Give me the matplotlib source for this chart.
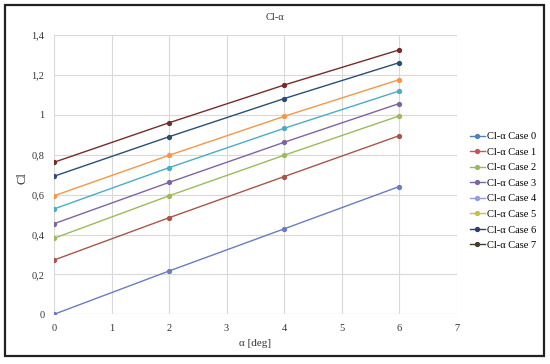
import matplotlib
matplotlib.use("Agg")
import matplotlib.pyplot as plt
from matplotlib.lines import Line2D
from matplotlib.patches import Rectangle

alpha = [0, 2, 4, 6]
case0 = [0.000, 0.217, 0.428, 0.640]
case1 = [0.272, 0.484, 0.690, 0.895]
case2 = [0.381, 0.594, 0.797, 0.994]
case3 = [0.454, 0.661, 0.862, 1.056]
case4 = [0.528, 0.735, 0.932, 1.119]
case5 = [0.594, 0.797, 0.992, 1.176]
case6 = [0.692, 0.890, 1.081, 1.261]
case7 = [0.762, 0.960, 1.149, 1.325]
labels = ["Cl-α Case 0", "Cl-α Case 1", "Cl-α Case 2", "Cl-α Case 3",
          "Cl-α Case 4", "Cl-α Case 5", "Cl-α Case 6", "Cl-α Case 7"]
series = [case0, case1, case2, case3, case4, case5, case6, case7]
line_colors = ["#6A7CC2", "#A8564A", "#9BBB59", "#8064A2",
               "#4BACC6", "#F79646", "#2C4D75", "#772C2A"]
legend_colors = ["#4F81BD", "#D0505A", "#9BBB59", "#8064A2",
                 "#8FA0D8", "#C8C040", "#2E3A7A", "#4A3A2A"]
xticks = [0, 1, 2, 3, 4, 5, 6, 7]
yticks = [0, 0.2, 0.4, 0.6, 0.8, 1.0, 1.2, 1.4]
yticklabels = ["0", "0,2", "0,4", "0,6", "0,8", "1", "1,2", "1,4"]

plt.rcParams['font.family'] = ['Liberation Serif', 'DejaVu Serif']

fig = plt.figure(figsize=(5.5, 3.64), dpi=100)
ax = fig.add_axes([54/550, 1 - 314.3/364, (456.5-54)/550, (314.3-35)/364])

for ys, c in zip(series, line_colors):
    ax.plot(alpha, ys, color=c, lw=1.0, marker='o', markersize=2.8)

ax.set_xlim(0, 7)
ax.set_ylim(0, 1.4)
ax.set_xticks(xticks)
ax.set_yticks(yticks)
ax.set_yticklabels(yticklabels)
ax.tick_params(length=0, labelsize=7.5, pad=7, colors='#333333')
ax.grid(True, color='#D9D9D9', lw=0.8)
ax.set_axisbelow(True)
for s in ax.spines.values():
    s.set_visible(False)
ax.axhline(0, color='#D9D9D9', lw=0.8, zorder=0)

fig.text(255/550, 1 - 343/364, "α [deg]", ha='center', va='center', fontsize=8, color='#333333')
fig.text(22/550, 1 - 178/364, "Cl", ha='center', va='center', rotation=90, fontsize=9, color='#333333')
fig.text(275/550, 1 - 18/364, "Cl-α", ha='center', va='center', fontsize=7.5, color='#333333')

handles = [Line2D([0], [0], color=c, lw=1.0, marker='o', markersize=2.8) for c in legend_colors]
leg = fig.legend(handles, labels, loc='upper left', bbox_to_anchor=(470/550, 1 - 132/364),
                 frameon=False, fontsize=7.5, handlelength=1.4, handletextpad=0.2,
                 labelspacing=0.6, borderaxespad=0, borderpad=0)

fig.patches.append(Rectangle((5/550, 1 - 356/364), (544-5)/550, (356-5)/364,
                             transform=fig.transFigure, fill=False,
                             edgecolor='#222222', lw=1.6))

fig.savefig("out.png", dpi=100)
